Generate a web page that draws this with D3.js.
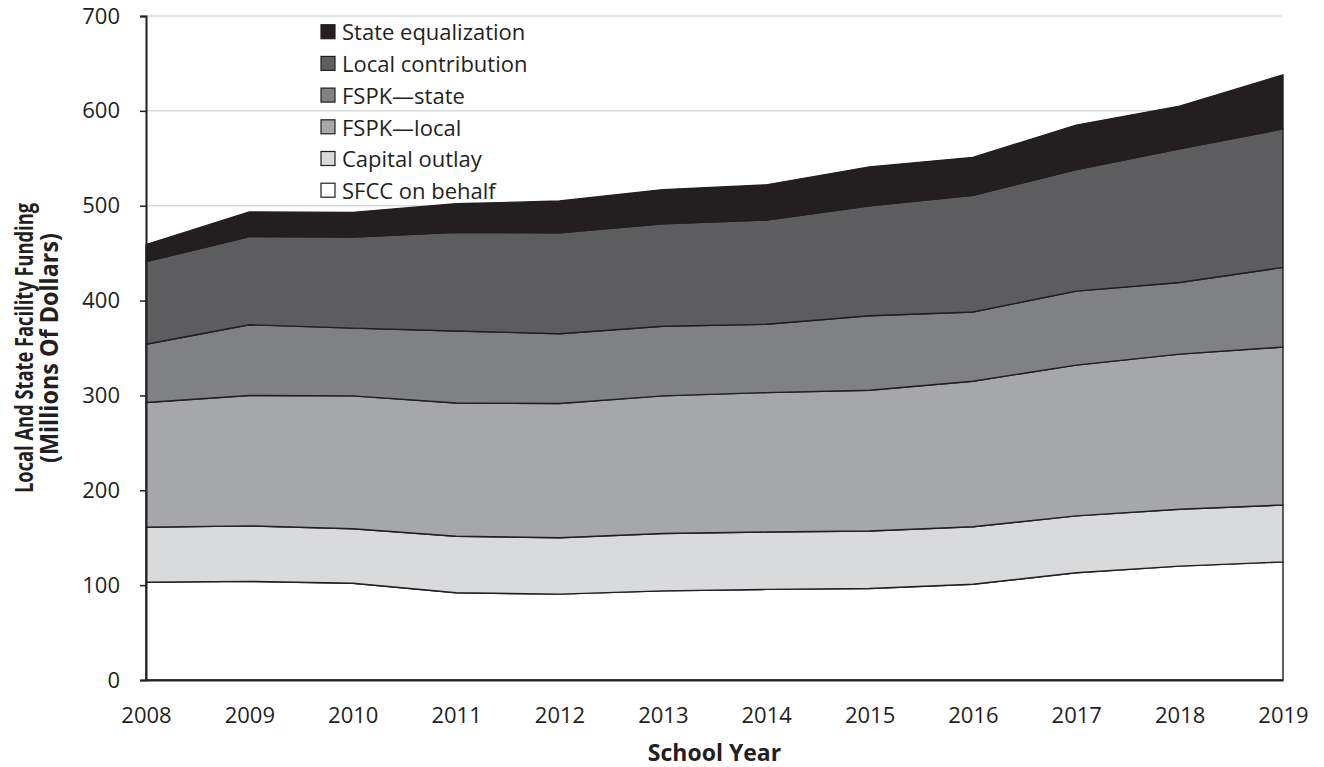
<!DOCTYPE html>
<html>
<head>
<meta charset="utf-8">
<script src="https://cdn.jsdelivr.net/npm/d3@7"></script>
<style>
  html, body { margin: 0; padding: 0; background: #ffffff; }
  svg { display: block; font-family: "Open Sans", "Segoe UI", sans-serif; }
</style>
</head>
<body>
<svg id="chart" width="1324" height="767"></svg>
<script>
// ---- Data (millions of dollars) ----
const years = [2008, 2009, 2010, 2011, 2012, 2013, 2014, 2015, 2016, 2017, 2018, 2019];
const sfccOnBehalf      = [103, 104, 102, 92, 90.5, 94, 95.5, 96.5, 101, 113, 120, 124.5];
const capitalOutlay     = [58, 58.5, 57.5, 59.5, 59.5, 60.5, 60.5, 60.5, 60.5, 60, 60, 60];
const fspkLocal         = [131.5, 137.5, 140, 140.5, 141.5, 145, 147, 148.5, 153.5, 159, 163.5, 166.5];
const fspkState         = [61.5, 74.5, 71.5, 76, 73.5, 73.5, 72, 78.5, 73, 78, 75.5, 84];
const localContribution = [87, 93, 96, 104, 106.5, 108, 110, 116, 123, 128, 141, 146];
const stateEqualization = [18, 26, 26, 30, 33.5, 36, 37, 41, 40, 47, 45, 57];
const yTicks = [0, 100, 200, 300, 400, 500, 600, 700];

const seriesKeys  = ["SFCC on behalf", "Capital outlay", "FSPK\u2014local", "FSPK\u2014state", "Local contribution", "State equalization"];
const seriesVals  = [sfccOnBehalf, capitalOutlay, fspkLocal, fspkState, localContribution, stateEqualization];
const seriesFills = ["#ffffff", "#d9dadb", "#a6a7aa", "#808184", "#5d5d5f", "#231f20"];

const table = years.map((yr, i) => {
  const row = { year: yr };
  seriesKeys.forEach((k, j) => row[k] = seriesVals[j][i]);
  return row;
});

// ---- Layout ----
const svg = d3.select("#chart");
const mLeft = 146, mRight = 1283, mTop = 16, mBottom = 680;
const ink = "#231f20";

const x = d3.scaleLinear().domain([years[0], years[years.length - 1]]).range([mLeft, mRight]);
const y = d3.scaleLinear().domain([0, 700]).range([mBottom, mTop]);

// gridlines
svg.append("g").selectAll("line").data(yTicks.filter(d => d > 0)).join("line")
  .attr("x1", mLeft).attr("x2", mRight)
  .attr("y1", d => y(d)).attr("y2", d => y(d))
  .attr("stroke", "#d9dadb").attr("stroke-width", 1.5);

// stacked areas
const stack = d3.stack().keys(seriesKeys);
const layers = stack(table);
const area = d3.area()
  .x(d => x(d.data.year))
  .y0(d => y(d[0]))
  .y1(d => y(d[1]));

svg.append("g").selectAll("path").data(layers).join("path")
  .attr("d", area)
  .attr("fill", (d, i) => seriesFills[i])
  .attr("stroke", ink)
  .attr("stroke-width", 1.4)
  .attr("stroke-linejoin", "round");

// axes
const yAxis = d3.axisLeft(y).tickValues(yTicks).tickSize(6).tickPadding(20).tickFormat(d3.format("d"));
const gy = svg.append("g").attr("transform", `translate(${mLeft},0)`).call(yAxis);
gy.select(".domain").attr("stroke", ink).attr("stroke-width", 2);
gy.selectAll(".tick line").attr("stroke", ink).attr("stroke-width", 1.5);
gy.selectAll(".tick text").attr("font-size", 22).attr("fill", ink)
  .attr("font-family", "'Open Sans', sans-serif");

const xAxis = d3.axisBottom(x).tickValues(years).tickSize(0).tickPadding(27).tickFormat(d3.format("d"));
const gx = svg.append("g").attr("transform", `translate(0,${mBottom})`).call(xAxis);
gx.select(".domain").attr("stroke", ink).attr("stroke-width", 2);
gx.selectAll(".tick text").attr("font-size", 22).attr("fill", ink)
  .attr("font-family", "'Open Sans', sans-serif");

// axis titles
svg.append("text")
  .attr("x", (mLeft + mRight) / 2).attr("y", 761)
  .attr("text-anchor", "middle")
  .attr("font-size", 23).attr("font-weight", "bold").attr("fill", ink)
  .text("School Year");

const yt = svg.append("g").attr("transform", `translate(0,${(mTop + mBottom) / 2}) rotate(-90)`);
yt.append("text").attr("x", 0).attr("y", 33)
  .attr("text-anchor", "middle").attr("font-size", 25).attr("font-weight", "bold").attr("fill", ink)
  .attr("textLength", 290).attr("lengthAdjust", "spacingAndGlyphs")
  .text("Local And State Facility Funding");
yt.append("text").attr("x", 0).attr("y", 58)
  .attr("text-anchor", "middle").attr("font-size", 25).attr("font-weight", "bold").attr("fill", ink)
  .attr("textLength", 230).attr("lengthAdjust", "spacingAndGlyphs")
  .text("(Millions Of Dollars)");

// legend (top to bottom: reverse stack order)
const legendItems = seriesKeys.map((k, i) => ({ key: k, fill: seriesFills[i] })).reverse();
const lg = svg.append("g").attr("transform", "translate(321,31.7)");
const li = lg.selectAll("g").data(legendItems).join("g")
  .attr("transform", (d, i) => `translate(0,${i * 31.7})`);
li.append("rect").attr("x", 0).attr("y", -7).attr("width", 14).attr("height", 14)
  .attr("fill", d => d.fill).attr("stroke", ink).attr("stroke-width", 1.2);
li.append("text").attr("x", 21).attr("y", 1).attr("dy", "0.35em")
  .attr("font-size", 22).attr("fill", ink).text(d => d.key);
</script>
</body>
</html>
